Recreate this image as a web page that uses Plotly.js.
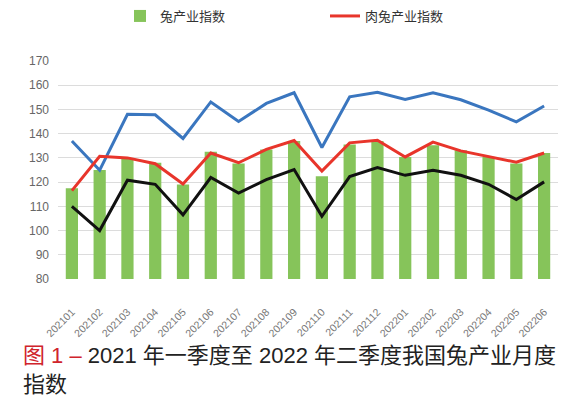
<!DOCTYPE html>
<html><head><meta charset="utf-8">
<script src="https://cdn.plot.ly/plotly-3.0.1.min.js"></script>
<style>html,body{margin:0;padding:0;background:#fff}#c{width:581px;height:398px}</style>
</head><body><div id="c"></div>
<script>
const months = ['202101','202102','202103','202104','202105','202106','202107','202108','202109','202110','202111','202112','202201','202202','202203','202204','202205','202206'];
const rabbitIndex = [117.5,125,129.5,128,119,132.5,127.7,133.5,137,122.4,135.5,137,130.4,135.2,133.2,130.4,127.7,132];
const meatRabbitIndex = [116.5,130.7,130,127.6,119.2,132,128,133.5,137.2,124.6,136.2,137.3,130.4,136.5,132.9,130.7,128.2,132];
const blueSeries = [137,124.9,148,147.8,138,153.1,145,152.5,156.9,134.3,155.2,157.1,154.1,156.9,154,149.7,144.9,151.4];
const blackSeries = [110,100,120.8,119.1,106.5,121.9,115.5,121,125.2,105.9,122.3,126,122.8,124.9,122.8,119.1,112.8,120.1];

const font = '"Liberation Sans","Noto Sans CJK SC",sans-serif';
const cjk = '"Noto Sans CJK SC","Noto Sans",sans-serif';
const data = [
  {type:'bar', x:months, y:rabbitIndex, name:'兔产业指数', marker:{color:'#86c45a'}},
  {type:'scatter', mode:'lines', x:months, y:blueSeries, name:'blue', showlegend:false, line:{color:'#3a76bf', width:3}},
  {type:'scatter', mode:'lines', x:months, y:meatRabbitIndex, name:'肉兔产业指数', line:{color:'#e8352b', width:3}},
  {type:'scatter', mode:'lines', x:months, y:blackSeries, name:'black', showlegend:false, line:{color:'#111111', width:3}}
];
const layout = {
  width:581, height:398,
  margin:{l:58, r:23, t:61, b:119},
  paper_bgcolor:'#fff', plot_bgcolor:'#fff',
  bargap:0.56,
  font:{family:font, color:'#333'},
  showlegend:true,
  legend:{orientation:'h', xref:'container', yref:'container', x:120/581, xanchor:'left', y:1-16/398, yanchor:'middle',
          font:{size:13, color:'#333', family:cjk}, traceorder:'normal', itemwidth:30, entrywidth:160, entrywidthmode:'pixels'},
  xaxis:{type:'category', tickangle:-45, tickfont:{size:10.5, color:'#777', family:font}, showgrid:false, showline:false, ticks:'', zeroline:false, ticklabelstandoff:24},
  yaxis:{range:[80,170], dtick:10, tickfont:{size:12, color:'#666', family:font}, gridcolor:'#dcdcdc', gridwidth:1, zeroline:false, showline:false, ticks:'', ticklabelstandoff:8},
  title:{text:'<span style="color:#d0242c">图 1 –</span> 2021 年一季度至 2022 年二季度我国兔产业月度<br>指数', xref:'container', yref:'container', x:23/581, xanchor:'left', y:(398-363)/398, yanchor:'top', font:{size:22, color:'#222', family:font}}
};
Plotly.newPlot('c', data, layout, {displayModeBar:false, staticPlot:true});
</script></body></html>
